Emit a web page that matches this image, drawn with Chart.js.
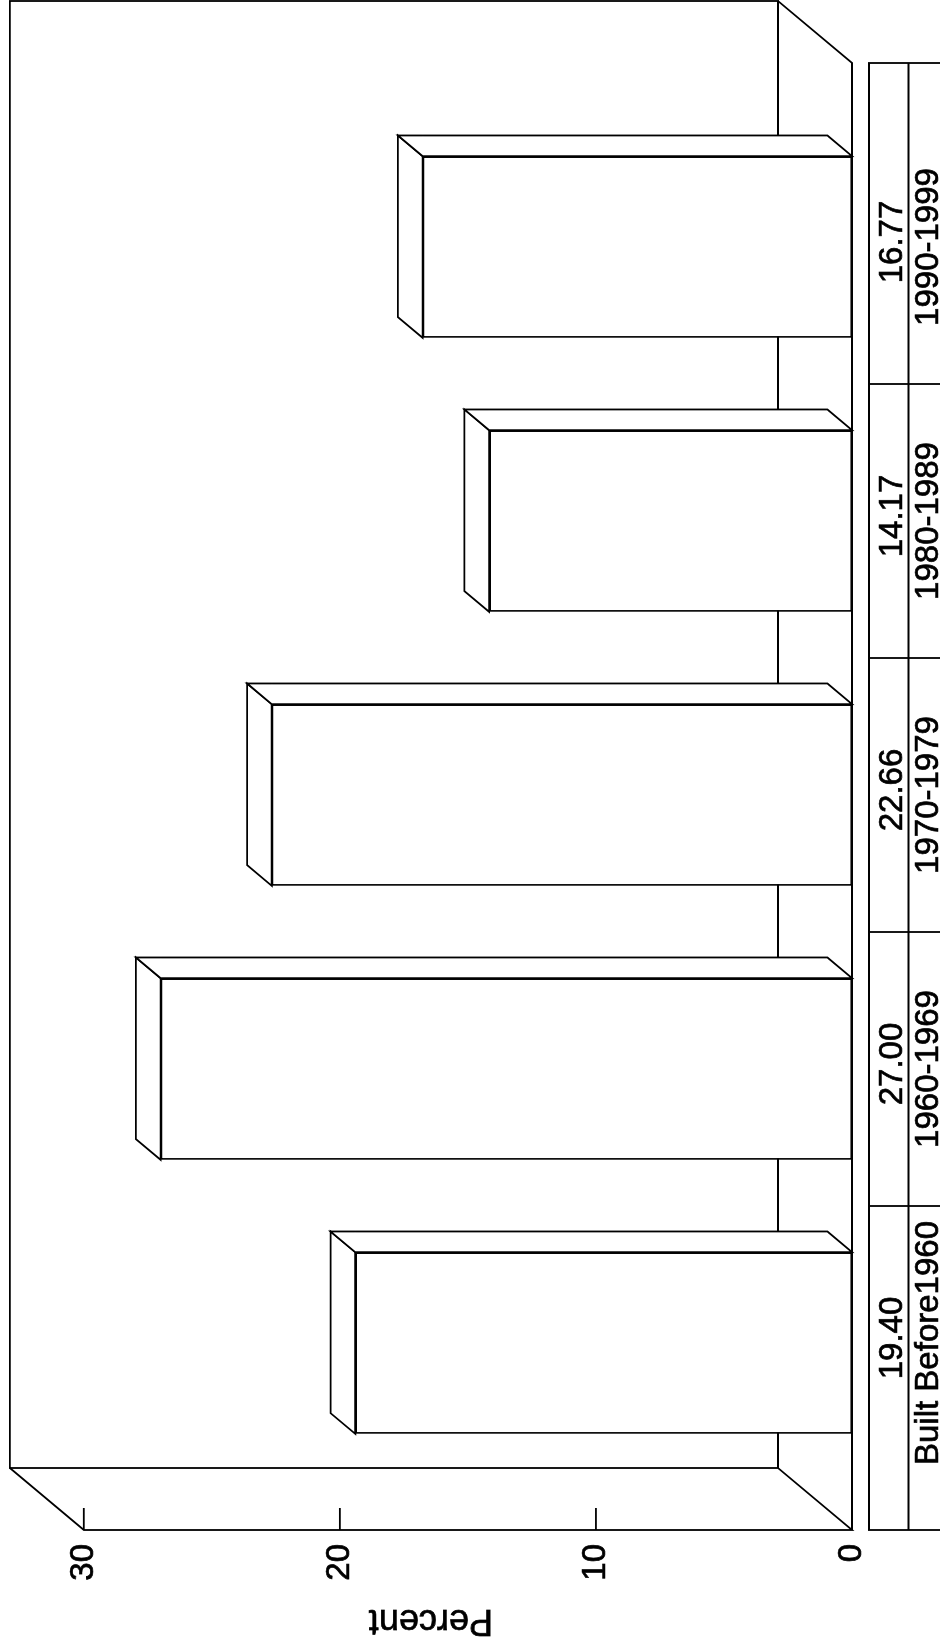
<!DOCTYPE html>
<html>
<head>
<meta charset="utf-8">
<title>Percent by year built</title>
<script src="https://cdn.jsdelivr.net/npm/chart.js@4.4.1/dist/chart.umd.min.js"></script>
<style>
  html, body { margin: 0; padding: 0; background: #fff; }
  #page { position: relative; width: 940px; height: 1645px; overflow: hidden; background: #fff; }
  /* the chart is laid out in landscape and turned a quarter to fit the portrait page */
  #land { position: absolute; left: 0; top: 0; width: 1645px; height: 940px;
          transform-origin: 0 0; transform: translate(0, 1645px) rotate(-90deg); }
</style>
</head>
<body>
<div id="page"><div id="land"><canvas id="c" width="1645" height="940"></canvas></div></div>
<script>
// ── data ───────────────────────────────────────────────
const categories = ['Built Before1960', '1960-1969', '1970-1979', '1980-1989', '1990-1999'];
const percents = [19.40, 27.00, 22.66, 14.17, 16.77];
const yTicks = [0, 10, 20, 30];
const yTitle = 'Percent';

// ── look ───────────────────────────────────────────────
const FONT = "'Liberation Sans', Arial, Helvetica, sans-serif";
const INK = '#000';
const LW = 1.8;
const TXT_STROKE = 0.7;        // scanned print looks a bit heavier
const DX = 62, DY = 74;        // depth of the box (front -> back wall)
const BDX = 20.7, BDY = 24.7;  // depth of each bar
const EXT_L = 50, EXT_R = 47;  // floor runs past the category band

function poly(ctx, pts, close, fill) {
  ctx.beginPath();
  ctx.moveTo(pts[0][0], pts[0][1]);
  for (let i = 1; i < pts.length; i++) ctx.lineTo(pts[i][0], pts[i][1]);
  if (close) ctx.closePath();
  if (fill) { ctx.fillStyle = fill; ctx.fill(); }
  ctx.stroke();
}

function text(ctx, s, x, y) {
  ctx.fillText(s, x, y);
  ctx.lineWidth = TXT_STROKE;
  ctx.strokeText(s, x, y);
}

const box3d = {
  id: 'box3d',
  beforeDatasetsDraw(chart) {
    const { ctx, chartArea: a, scales: { y } } = chart;
    const x0 = a.left - EXT_L, x1 = a.right + EXT_R;
    const yb = y.getPixelForValue(yTicks[0]);
    const yt = y.getPixelForValue(yTicks[yTicks.length - 1]);
    ctx.save();
    ctx.strokeStyle = INK;
    ctx.lineWidth = LW;
    // back wall
    poly(ctx, [[x0 + DX, yt - DY], [x1 + DX, yt - DY], [x1 + DX, yb - DY], [x0 + DX, yb - DY]], true);
    // side wall with the value axis on its front edge
    poly(ctx, [[x0 + DX, yt - DY], [x0, yt], [x0, yb], [x0 + DX, yb - DY]]);
    // floor
    poly(ctx, [[x0, yb], [x1, yb], [x1 + DX, yb - DY]]);
    // ticks point inwards
    yTicks.forEach(v => {
      const p = y.getPixelForValue(v);
      poly(ctx, [[x0, p], [x0 + 22, p]]);
    });
    // axis title, centred on the whole wall height
    ctx.fillStyle = INK;
    ctx.font = '36px ' + FONT;
    ctx.textAlign = 'center';
    ctx.textBaseline = 'alphabetic';
    ctx.translate(35, (yt - DY + yb) / 2);
    ctx.rotate(-Math.PI / 2);
    text(ctx, yTitle, 0, 0);
    ctx.restore();
  },
  afterDatasetsDraw(chart) {
    const { ctx, chartArea: a, scales: { x, y } } = chart;
    const x0 = a.left - EXT_L, x1 = a.right + EXT_R;
    const yb = y.getPixelForValue(yTicks[0]);
    ctx.save();
    ctx.strokeStyle = INK;
    ctx.lineWidth = LW;
    // top and side faces of every bar
    chart.getDatasetMeta(0).data.forEach(bar => {
      const p = bar.getProps(['x', 'y', 'base', 'width'], true);
      const l = p.x - p.width / 2, r = p.x + p.width / 2;
      poly(ctx, [[l, p.y], [l + BDX, p.y - BDY], [r + BDX, p.y - BDY], [r, p.y]], true, '#fff');
      poly(ctx, [[r, p.y], [r + BDX, p.y - BDY], [r + BDX, p.base - BDY], [r, p.base]], true, '#fff');
    });
    poly(ctx, [[x0, yb], [x1, yb]]);

    // data table under the floor
    const tTop = 869, tMid = 908.5, tBot = 950;
    poly(ctx, [[x0, tBot], [x0, tTop], [x1, tTop], [x1, tBot]]);
    poly(ctx, [[x0, tMid], [x1, tMid]]);
    for (let i = 0; i < categories.length - 1; i++) {
      const m = (x.getPixelForValue(i) + x.getPixelForValue(i + 1)) / 2;
      poly(ctx, [[m, tTop], [m, tBot]]);
    }
    ctx.fillStyle = INK;
    ctx.font = '33px ' + FONT;
    ctx.textAlign = 'center';
    ctx.textBaseline = 'alphabetic';
    categories.forEach((c, i) => {
      const cx = x.getPixelForValue(i);
      text(ctx, percents[i].toFixed(2), cx + 5, 902);
      text(ctx, c, cx, 938);
    });
    ctx.restore();
  }
};

new Chart(document.getElementById('c'), {
  type: 'bar',
  data: {
    labels: categories,
    datasets: [{
      data: percents,
      backgroundColor: '#fff',
      borderColor: INK,
      borderWidth: LW,
      borderSkipped: false,
      barPercentage: 0.663,
      categoryPercentage: 1
    }]
  },
  options: {
    responsive: false,
    animation: false,
    devicePixelRatio: 1,
    layout: { padding: { left: 0, right: 110, top: 83, bottom: 88 } },
    plugins: { legend: { display: false }, tooltip: { enabled: false } },
    scales: {
      x: { display: false, offset: true },
      y: {
        min: 0, max: 30,
        afterFit: s => { s.width = 165; },
        afterBuildTicks: s => { s.ticks = yTicks.map(v => ({ value: v })); },
        border: { display: false },
        grid: { display: false, drawTicks: false },
        ticks: {
          font: { size: 33, family: FONT }, color: INK, padding: 64,
          textStrokeColor: INK, textStrokeWidth: TXT_STROKE
        }
      }
    }
  },
  plugins: [box3d]
});
</script>
</body>
</html>
